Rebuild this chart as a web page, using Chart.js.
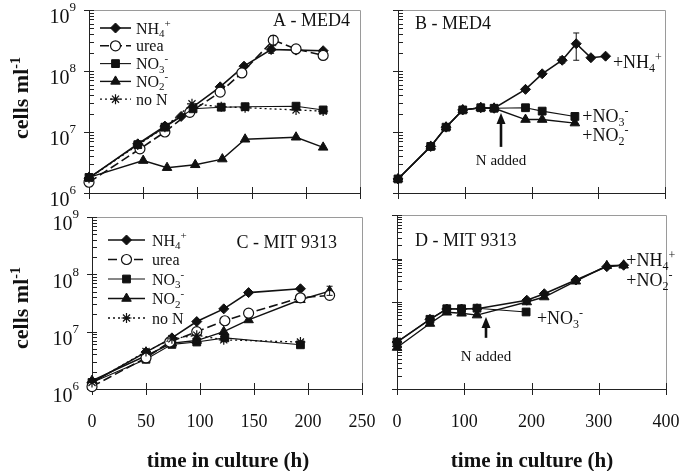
<!DOCTYPE html>
<html>
<head>
<meta charset="utf-8">
<script src="https://cdn.jsdelivr.net/npm/chart.js@4/dist/chart.umd.min.js"></script>
<style>
  body { margin: 0; background: #fff; }
  #wrap { position: relative; width: 683px; height: 471px; font-family: "Liberation Serif", "Times New Roman", serif; color: #111; }
  canvas { position: absolute; left: 0; top: 0; }
  .ttl { position: absolute; font-weight: bold; white-space: nowrap; transform: translate(-50%, -50%); }
  .xt { font-size: 21px; top: 460px; }
  .yt { font-size: 22px; left: 21px; transform: translate(-50%, -50%) rotate(-90deg); }
  .yt sup { font-size: 14px; }
</style>
</head>
<body>
<div id="wrap">
  <canvas id="cA" width="683" height="471"></canvas>
  <canvas id="cB" width="683" height="471"></canvas>
  <canvas id="cC" width="683" height="471"></canvas>
  <canvas id="cD" width="683" height="471"></canvas>
  <div class="ttl yt" style="top:98px">cells ml<sup>-1</sup></div>
  <div class="ttl yt" style="top:308px">cells ml<sup>-1</sup></div>
  <div class="ttl xt" style="left:228px">time in culture (h)</div>
  <div class="ttl xt" style="left:532px">time in culture (h)</div>
</div>
<script>
// ---- data: time in culture (h) and cells per ml ----

// A - MED4, growth on each N source
const aNH4T  = [0, 45, 70, 85, 95, 121, 143, 168, 191, 216];
const aNH4   = [1.75e6, 6.4e6, 1.25e7, 1.8e7, 2.5e7, 5.5e7, 1.2e8, 2.25e8, 2.2e8, 2.15e8];
const aUreaT = [0, 47, 70, 93, 121, 141, 170, 191, 216];
const aUrea  = [1.5e6, 5.3e6, 1.0e7, 2.1e7, 4.5e7, 9.3e7, 3.2e8, 2.3e8, 1.8e8];
const aNO3T  = [0, 45, 70, 96, 122, 144, 191, 216];
const aNO3   = [1.8e6, 6.2e6, 1.2e7, 2.4e7, 2.55e7, 2.6e7, 2.65e7, 2.3e7];
const aNO2T  = [0, 50, 72, 98, 123, 144, 191, 216];
const aNO2   = [1.8e6, 3.4e6, 2.6e6, 2.9e6, 3.6e6, 7.6e6, 8.2e6, 5.6e6];
const aNoNT  = [0, 45, 70, 95, 122, 144, 191, 216];
const aNoN   = [1.75e6, 6.1e6, 1.2e7, 2.9e7, 2.6e7, 2.5e7, 2.3e7, 2.2e7];

// B - MED4, N added after 144 h
const bNH4T = [0, 49, 72, 97, 124, 144, 191, 216, 246, 267, 289, 311];
const bNH4  = [1.7e6, 5.8e6, 1.2e7, 2.3e7, 2.5e7, 2.45e7, 5e7, 9e7, 1.5e8, 2.8e8, 1.65e8, 1.75e8];
const bNO3T = [0, 49, 72, 97, 124, 144, 191, 216, 265];
const bNO3  = [1.7e6, 5.8e6, 1.2e7, 2.3e7, 2.5e7, 2.45e7, 2.5e7, 2.2e7, 1.8e7];
const bNO2T = [0, 49, 72, 97, 124, 144, 191, 216, 265];
const bNO2  = [1.7e6, 5.8e6, 1.2e7, 2.3e7, 2.5e7, 2.45e7, 1.6e7, 1.6e7, 1.4e7];

// C - MIT 9313, growth on each N source
const cNH4T  = [0, 50, 74, 97, 122, 145, 193];
const cNH4   = [1.3e6, 4.4e6, 7.8e6, 1.5e7, 2.5e7, 4.8e7, 5.6e7];
const cUreaT = [0, 50, 72, 97, 123, 145, 193, 220];
const cUrea  = [1.1e6, 3.5e6, 6.6e6, 1.0e7, 1.55e7, 2.1e7, 3.9e7, 4.3e7];
const cNO3T  = [0, 50, 74, 97, 123, 193];
const cNO3   = [1.3e6, 3.3e6, 6.0e6, 6.6e6, 7.8e6, 5.9e6];
const cNO2T  = [0, 50, 74, 97, 122, 145, 193, 220];
const cNO2   = [1.4e6, 3.8e6, 6.3e6, 7.0e6, 1.0e7, 1.6e7, 3.6e7, 5.1e7];
const cNoNT  = [0, 50, 74, 97, 122, 193];
const cNoN   = [1.3e6, 4.5e6, 7.5e6, 8.7e6, 7.2e6, 6.6e6];

// D - MIT 9313, N added after ~120 h
const dNH4T = [0, 49, 74, 96, 119, 193, 219, 266, 312, 337];
const dNH4  = [1.2e6, 4e6, 6.9e6, 6.9e6, 7e6, 1.1e7, 1.55e7, 3.2e7, 6.5e7, 7e7];
const dNO2T = [0, 49, 74, 96, 119, 193, 219, 266, 312, 337];
const dNO2  = [9e5, 3.2e6, 5.8e6, 5.5e6, 5e6, 1e7, 1.3e7, 3e7, 6.8e7, 7e7];
const dNO3T = [0, 49, 74, 96, 119, 192];
const dNO3  = [1.2e6, 4e6, 7e6, 7e6, 7.2e6, 5.9e6];

// error bars: [time, low, high]
const aUreaErr = [[170, 2.6e8, 3.8e8]];
const aNH4Err  = [[168, 1.95e8, 2.5e8]];
const bNH4Err  = [[246, 1.35e8, 1.7e8], [267, 1.5e8, 4.2e8], [289, 1.55e8, 1.8e8]];
const cNO2Err  = [[220, 4.3e7, 6.2e7]];

// tick labels
const xTicksAC = [0, 50, 100, 150, 200, 250];
const xTicksBD = [0, 100, 200, 300, 400];
const yExpAC   = [6, 7, 8, 9];

const serif = '"Liberation Serif", "Times New Roman", serif';
const INK = '#111';
const XAXIS_H = 60;

const STYLES = {
  nh4:  { borderWidth: 1.6, pointStyle: 'rectRot', pointRadius: 5, backgroundColor: INK },
  urea: { borderWidth: 1.6, borderDash: [9, 4], pointStyle: 'circle', pointRadius: 5, backgroundColor: '#fff', pointBorderWidth: 1.2 },
  no3:  { borderWidth: 1.1, pointStyle: 'rect', pointRadius: 5.5, backgroundColor: INK },
  no2:  { borderWidth: 1.4, pointStyle: 'triangle', pointRadius: 5.5, backgroundColor: INK },
  non:  { borderWidth: 1.3, borderDash: [2, 3], pointStyle: 'star', pointRadius: 5, backgroundColor: INK, pointBorderWidth: 1.2 }
};

const LEGEND = [
  ['nh4',  [['NH'], ['4', 'sub'], ['+', 'sup']]],
  ['urea', [['urea']]],
  ['no3',  [['NO'], ['3', 'sub'], ['-', 'sup']]],
  ['no2',  [['NO'], ['2', 'sub'], ['-', 'sup']]],
  ['non',  [['no N']]]
];

function series(kind, t, v, err) {
  return Object.assign({
    data: t.map((x, i) => ({ x: x, y: v[i] })),
    borderColor: INK,
    pointBorderColor: INK,
    pointBorderWidth: 1,
    clip: false,
    errors: err || []
  }, STYLES[kind]);
}

// text with sub/superscripts, y is the baseline
function rich(ctx, parts, x, y, size, align) {
  const fnt = k => (k ? Math.round(size * 0.68) : size) + 'px ' + serif;
  let w = 0;
  parts.forEach(p => { ctx.font = fnt(p[1]); w += ctx.measureText(p[0]).width; });
  let cx = align === 'right' ? x - w : align === 'center' ? x - w / 2 : x;
  ctx.textAlign = 'left';
  ctx.textBaseline = 'alphabetic';
  parts.forEach(p => {
    ctx.font = fnt(p[1]);
    const dy = p[1] === 'sub' ? size * 0.22 : p[1] === 'sup' ? -size * 0.42 : 0;
    ctx.fillText(p[0], cx, y + dy);
    cx += ctx.measureText(p[0]).width;
  });
}

function logTicks(min, max) {
  const out = [];
  for (let e = Math.round(Math.log10(min)); e <= Math.round(Math.log10(max)); e++) {
    for (let k = 1; k <= 9; k++) {
      const v = k * Math.pow(10, e);
      if (v >= min * 0.999 && v <= max * 1.001) out.push({ value: v, major: k === 1 });
    }
  }
  return out;
}

const panelPlugin = {
  id: 'panel',
  beforeDatasetsDraw(chart, args, o) {
    const ctx = chart.ctx, a = chart.chartArea;
    const xs = chart.scales.x, ys = chart.scales.y;
    ctx.save();
    // light frame
    ctx.strokeStyle = '#9a9a9a';
    ctx.lineWidth = 1;
    ctx.beginPath();
    ctx.moveTo(a.left, a.top + 0.5); ctx.lineTo(a.right + 0.5, a.top + 0.5); ctx.lineTo(a.right + 0.5, a.bottom);
    ctx.stroke();
    // axes
    ctx.strokeStyle = '#222';
    ctx.beginPath();
    ctx.moveTo(a.left + 0.5, a.top); ctx.lineTo(a.left + 0.5, a.bottom + 0.5); ctx.lineTo(a.right + 0.5, a.bottom + 0.5);
    ctx.stroke();
    // x tick marks cross the axis
    ctx.beginPath();
    xs.ticks.forEach(t => {
      const px = Math.round(xs.getPixelForValue(t.value)) + 0.5;
      ctx.moveTo(px, a.bottom - 6); ctx.lineTo(px, a.bottom + 6);
    });
    // y ticks: majors cross, minors point inward
    ys.ticks.forEach(t => {
      const py = Math.round(ys.getPixelForValue(t.value)) + 0.5;
      ctx.moveTo(t.major ? a.left - 5 : a.left, py); ctx.lineTo(a.left + 5, py);
    });
    ctx.stroke();
    // y tick labels 10^n
    ctx.fillStyle = INK;
    if (o.yLabels) {
      yExpAC.forEach(e => {
        const py = ys.getPixelForValue(Math.pow(10, e));
        ctx.font = '13px ' + serif;
        const sw = ctx.measureText(String(e)).width;
        ctx.textAlign = 'left'; ctx.textBaseline = 'middle';
        ctx.fillText(String(e), a.left - 13 - sw, py - 2);
        ctx.font = '20px ' + serif;
        ctx.textAlign = 'right';
        ctx.fillText('10', a.left - 13 - sw, py + 8);
      });
    }
    ctx.restore();
  },
  afterDatasetsDraw(chart, args, o) {
    const ctx = chart.ctx;
    const xs = chart.scales.x, ys = chart.scales.y;
    ctx.save();
    ctx.fillStyle = INK;
    ctx.strokeStyle = INK;
    // error bars
    chart.data.datasets.forEach(ds => {
      ds.errors.forEach(e => {
        const px = xs.getPixelForValue(e[0]);
        const lo = ys.getPixelForValue(e[1]), hi = ys.getPixelForValue(e[2]);
        ctx.lineWidth = 1;
        ctx.beginPath();
        ctx.moveTo(px, lo); ctx.lineTo(px, hi);
        ctx.moveTo(px - 3, lo); ctx.lineTo(px + 3, lo);
        ctx.moveTo(px - 3, hi); ctx.lineTo(px + 3, hi);
        ctx.stroke();
      });
    });
    // panel name
    rich(ctx, [[o.name]], o.nameAt[0], o.nameAt[1], 18, o.nameAlign);
    // legend
    if (o.legend) {
      const L = o.legend;
      LEGEND.forEach((row, i) => {
        const st = STYLES[row[0]];
        const y = L.y + i * L.dy;
        ctx.lineWidth = st.borderWidth;
        ctx.setLineDash(st.borderDash || []);
        ctx.beginPath(); ctx.moveTo(L.x0, y); ctx.lineTo(L.x1, y); ctx.stroke();
        ctx.setLineDash([]);
        ctx.fillStyle = st.backgroundColor;
        ctx.lineWidth = st.pointBorderWidth || 1;
        Chart.helpers.drawPoint(ctx, { pointStyle: st.pointStyle, radius: st.pointRadius, rotation: 0, borderWidth: st.pointBorderWidth || 1 }, (L.x0 + L.x1) / 2, y);
        ctx.fillStyle = INK;
        rich(ctx, row[1], L.x1 + L.gap, y + 5.5, 16, 'left');
      });
    }
    // in-plot labels
    (o.notes || []).forEach(n => {
      rich(ctx, n.parts, xs.getPixelForValue(n.x), ys.getPixelForValue(n.y), n.size || 18, n.align || 'left');
    });
    // "N added" arrow
    if (o.arrow) {
      const w = o.arrow;
      const px = Math.round(xs.getPixelForValue(w.x));
      const tail = ys.getPixelForValue(w.from), tip = ys.getPixelForValue(w.to);
      ctx.lineWidth = 2.6;
      ctx.beginPath(); ctx.moveTo(px, tail); ctx.lineTo(px, tip + 8); ctx.stroke();
      ctx.beginPath(); ctx.moveTo(px, tip); ctx.lineTo(px - 4.5, tip + 11); ctx.lineTo(px + 4.5, tip + 11); ctx.closePath(); ctx.fill();
      rich(ctx, [['N added']], px, ys.getPixelForValue(w.text) + 5, 15, 'center');
    }
    ctx.restore();
  }
};

function makePanel(id, area, xTicks, yMin, yMax, datasets, panel) {
  return new Chart(document.getElementById(id), {
    type: 'line',
    data: { datasets: datasets },
    plugins: [panelPlugin],
    options: {
      responsive: false,
      animation: false,
      devicePixelRatio: 1,
      layout: { padding: { left: area[0], top: area[1], right: 683 - area[2], bottom: 471 - area[3] - XAXIS_H } },
      plugins: { legend: { display: false }, tooltip: { enabled: false }, panel: panel },
      scales: {
        x: {
          type: 'linear', min: xTicks[0], max: xTicks[xTicks.length - 1],
          afterFit: s => { s.height = XAXIS_H; s.paddingLeft = 0; s.paddingRight = 0; },
          afterBuildTicks: s => { s.ticks = xTicks.map(v => ({ value: v })); },
          grid: { display: false }, border: { display: false },
          ticks: { display: panel.xLabels, padding: 14, color: INK, font: { family: serif, size: 18 }, maxRotation: 0, autoSkip: false }
        },
        y: {
          type: 'logarithmic', min: yMin, max: yMax,
          afterFit: s => { s.width = 0; s.paddingTop = 0; s.paddingBottom = 0; },
          afterBuildTicks: s => { s.ticks = logTicks(yMin, yMax); },
          grid: { display: false }, border: { display: false },
          ticks: { display: false }
        }
      }
    }
  });
}

const NH4 = [['+NH'], ['4', 'sub'], ['+', 'sup']];
const NO3 = [['+NO'], ['3', 'sub'], ['-', 'sup']];
const NO2 = [['+NO'], ['2', 'sub'], ['-', 'sup']];

makePanel('cA', [89, 10, 360, 193], xTicksAC, 1e6, 1e9, [
  series('no2', aNO2T, aNO2),
  series('non', aNoNT, aNoN),
  series('no3', aNO3T, aNO3),
  series('urea', aUreaT, aUrea, aUreaErr),
  series('nh4', aNH4T, aNH4, aNH4Err)
], { name: 'A - MED4', nameAt: [350, 26], nameAlign: 'right', yLabels: true, xLabels: false,
     legend: { x0: 100, x1: 131, gap: 5, y: 28, dy: 17.8 } });

makePanel('cB', [398, 10, 665, 193], xTicksBD, 1e6, 1e9, [
  series('no2', bNO2T, bNO2),
  series('nh4', bNH4T, bNH4, bNH4Err),
  series('no3', bNO3T, bNO3)
], { name: 'B - MED4', nameAt: [415, 29], nameAlign: 'left', yLabels: false, xLabels: false,
     notes: [
       { x: 322, y: 1.1e8, parts: NH4 },
       { x: 276, y: 1.45e7, parts: NO3 },
       { x: 276, y: 7.1e6, parts: NO2 }
     ],
     arrow: { x: 154, from: 5.7e6, to: 2.05e7, text: 3.5e6 } });

makePanel('cC', [92, 217, 362, 389], xTicksAC, 1e6, 1e9, [
  series('non', cNoNT, cNoN),
  series('urea', cUreaT, cUrea),
  series('no2', cNO2T, cNO2, cNO2Err),
  series('no3', cNO3T, cNO3),
  series('nh4', cNH4T, cNH4)
], { name: 'C - MIT 9313', nameAt: [337, 248], nameAlign: 'right', yLabels: true, xLabels: true,
     legend: { x0: 108, x1: 145, gap: 7, y: 240, dy: 19.5 } });

makePanel('cD', [397, 215, 666, 389], xTicksBD, 1e5, 1e9, [
  series('nh4', dNH4T, dNH4),
  series('no2', dNO2T, dNO2),
  series('no3', dNO3T, dNO3)
], { name: 'D - MIT 9313', nameAt: [415, 246], nameAlign: 'left', yLabels: false, xLabels: true,
     notes: [
       { x: 341, y: 6.7e7, parts: NH4 },
       { x: 341, y: 2.3e7, parts: NO2 },
       { x: 208, y: 3.1e6, parts: NO3 }
     ],
     arrow: { x: 132, from: 1.5e6, to: 4.5e6, text: 5.7e5 } });
</script>
</body>
</html>
